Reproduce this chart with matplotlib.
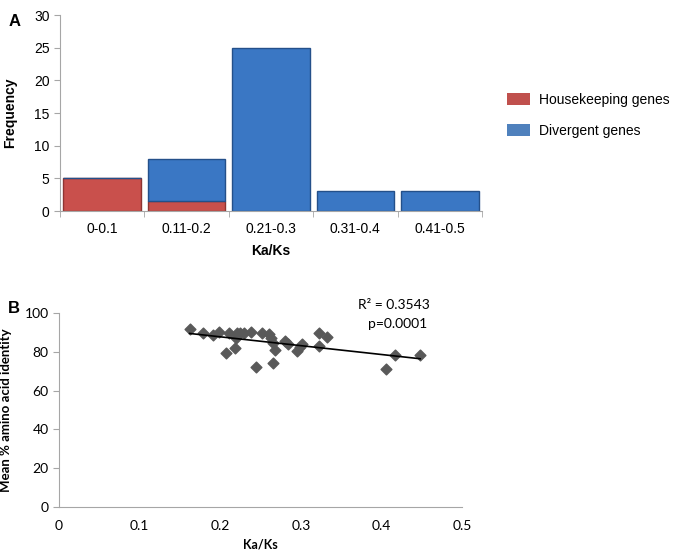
import matplotlib
matplotlib.use("Agg")
import matplotlib.pyplot as plt
import numpy as np
from matplotlib.patches import Patch

plt.rcParams["font.family"] = ["Liberation Sans", "DejaVu Sans"]

# panel A: frequency of Ka/Ks classes
categories = ["0-0.1", "0.11-0.2", "0.21-0.3", "0.31-0.4", "0.41-0.5"]
housekeeping = [5, 1.6, 0, 0, 0]
divergent = [0, 6.4, 25, 3, 3]

# panel B: Ka/Ks vs mean % amino acid identity
ka_ks = [0.162, 0.179, 0.191, 0.198, 0.211, 0.221, 0.225, 0.230, 0.238, 0.220,
         0.218, 0.207, 0.252, 0.261, 0.263, 0.266, 0.268, 0.244, 0.265, 0.280,
         0.284, 0.295, 0.299, 0.301, 0.323, 0.333, 0.323, 0.417, 0.406, 0.448]
identity = [91.6, 89.5, 88.7, 90.1, 89.8, 89.8, 89.5, 89.8, 90.2, 87.0,
            81.8, 79.5, 89.5, 89.0, 87.0, 84.4, 80.9, 72.3, 74.1, 85.7,
            84.0, 80.6, 82.6, 83.9, 89.5, 87.5, 83.1, 78.2, 71.3, 78.2]

RED = "#C9504C"
RED_EDGE = "#8E3431"
BLUE = "#3A77C4"
BLUE_EDGE = "#24508A"
AXIS_GRAY = "#A6A6A6"

fig = plt.figure(figsize=(6.74, 5.56), dpi=100)

# ---- panel A
ax1 = fig.add_axes([0.089, 0.6205, 0.626, 0.3525])
x = np.arange(len(categories))
ax1.bar(x, housekeeping, width=0.92, color=RED, edgecolor=RED_EDGE, linewidth=1.0)
ax1.bar(x, divergent, width=0.92, bottom=housekeeping, color=BLUE,
        edgecolor=BLUE_EDGE, linewidth=1.0)
ax1.set_xlim(-0.5, 4.5)
ax1.set_ylim(0, 30)
ax1.set_yticks(range(0, 31, 5))
ax1.set_xticks(x)
ax1.set_xticklabels(categories, fontsize=10)
ax1.set_xticks(np.arange(-0.5, 5, 1), minor=True)
ax1.tick_params(axis="x", which="major", length=0, pad=8)
ax1.tick_params(axis="x", which="minor", length=4, color=AXIS_GRAY)
ax1.tick_params(axis="y", length=4, color=AXIS_GRAY, labelsize=10)
for side in ["top", "right"]:
    ax1.spines[side].set_visible(False)
for side in ["left", "bottom"]:
    ax1.spines[side].set_color(AXIS_GRAY)
ax1.set_xlabel("Ka/Ks", fontsize=10, fontweight="bold", labelpad=6)
ax1.set_ylabel("Frequency", fontsize=10, fontweight="bold", labelpad=12)

handles = [Patch(facecolor="#C0504D", edgecolor="none", label="Housekeeping genes"),
           Patch(facecolor="#4F81BD", edgecolor="none", label="Divergent genes")]
fig.legend(handles=handles, loc="upper left", bbox_to_anchor=(0.752, 0.833),
           frameon=False, fontsize=10, handlelength=1.65, handleheight=1.0,
           labelspacing=1.2, handletextpad=0.7, borderpad=0, borderaxespad=0)

fig.text(0.012, 0.975, "A", fontsize=12, fontweight="bold", va="top")

# ---- panel B
lato = ["Lato", "DejaVu Sans"]
ax2 = fig.add_axes([0.0875, 0.0881, 0.598, 0.349])
ax2.scatter(ka_ks, identity, marker="D", s=30, color="#595959", zorder=3)
coef = np.polyfit(ka_ks, identity, 1)
xs = np.array([min(ka_ks), max(ka_ks)])
ax2.plot(xs, np.polyval(coef, xs), color="black", linewidth=1.2, zorder=4)
ax2.set_xlim(0, 0.5)
ax2.set_ylim(0, 100)
ax2.set_xticks([0, 0.1, 0.2, 0.3, 0.4, 0.5])
ax2.set_xticklabels(["0", "0.1", "0.2", "0.3", "0.4", "0.5"], family=lato, fontsize=10)
ax2.set_yticks(range(0, 101, 20))
ax2.set_yticklabels([str(v) for v in range(0, 101, 20)], family=lato, fontsize=10)
ax2.tick_params(axis="x", length=0, pad=9)
ax2.tick_params(axis="y", length=4, color=AXIS_GRAY)
for side in ["top", "right"]:
    ax2.spines[side].set_visible(False)
for side in ["left", "bottom"]:
    ax2.spines[side].set_color(AXIS_GRAY)
ax2.set_xlabel("Ka/Ks", family=lato, fontsize=9, fontweight="bold", labelpad=5)
ax2.set_ylabel("Mean % amino acid identity", family=lato, fontsize=9.5,
               fontweight="bold", labelpad=9)
ax2.text(0.46, 104, "R² = 0.3543", family=lato, fontsize=10, ha="right", va="center")
ax2.text(0.457, 94.5, "p=0.0001", family=lato, fontsize=10, ha="right", va="center")

fig.text(0.012, 0.458, "B", fontsize=12, fontweight="bold", va="top")

fig.savefig("out.png", dpi=100)
